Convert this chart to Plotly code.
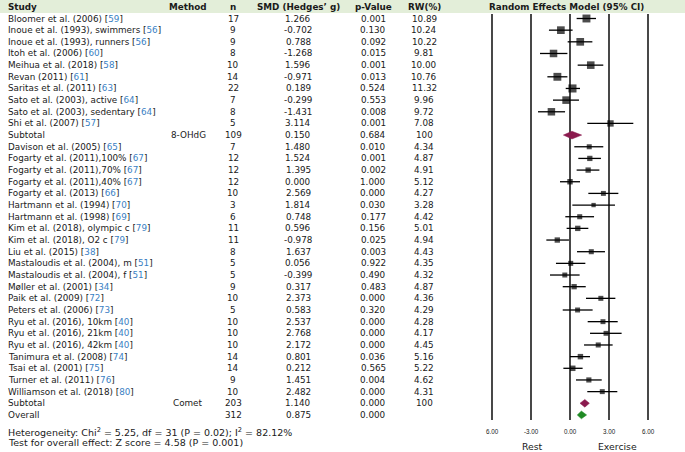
import plotly.graph_objects as go

W, H = 685, 452

# ---------------- data ----------------
g1_names = ["Bloomer et al. (2006)", "Inoue et al. (1993), swimmers", "Inoue et al. (1993), runners",
            "Itoh et al. (2006)", "Meihua et al. (2018)", "Revan (2011)", "Saritas et al. (2011)",
            "Sato et al. (2003), active", "Sato et al. (2003), sedentary", "Shi et al. (2007)"]
g1_refs = ["59", "56", "56", "60", "58", "61", "63", "64", "64", "57"]
g1_n = [17, 9, 9, 8, 10, 14, 22, 7, 8, 5]
g1_smd = [1.266, -0.702, 0.788, -1.268, 1.596, -0.971, 0.189, -0.299, -1.431, 3.114]
g1_p = ["0.001", "0.130", "0.092", "0.015", "0.001", "0.013", "0.524", "0.553", "0.008", "0.001"]
g1_rw = [10.89, 10.24, 10.22, 9.81, 10.00, 10.76, 11.32, 9.96, 9.72, 7.08]
g1_lo = [0.51, -1.62, -0.18, -2.31, 0.59, -1.74, -0.33, -1.31, -2.46, 1.33]
g1_hi = [2.00, 0.20, 1.72, -0.20, 2.56, -0.20, 0.77, 0.69, -0.38, 4.87]

g2_names = ["Davison et al. (2005)", "Fogarty et al. (2011),100%", "Fogarty et al. (2011),70%",
            "Fogarty et al. (2011),40%", "Fogarty et al. (2013)", "Hartmann et al. (1994)",
            "Hartmann et al. (1998)", "Kim et al. (2018), olympic c", "Kim et al. (2018), O2 c",
            "Liu et al. (2015)", "Mastaloudis et al. (2004), m", "Mastaloudis et al. (2004), f",
            "Møller et al. (2001)", "Paik et al. (2009)", "Peters et al. (2006)",
            "Ryu et al. (2016), 10km", "Ryu et al. (2016), 21km", "Ryu et al. (2016), 42km",
            "Tanimura et al. (2008)", "Tsai et al. (2001)", "Turner et al. (2011)",
            "Williamson et al. (2018)"]
g2_refs = ["65", "67", "67", "67", "66", "70", "69", "79", "79", "38", "51", "51", "34", "72", "73",
           "40", "40", "40", "74", "75", "76", "80"]
g2_n = [7, 12, 12, 12, 10, 3, 6, 11, 11, 8, 5, 5, 9, 10, 5, 10, 10, 10, 14, 14, 9, 10]
g2_smd = [1.480, 1.524, 1.395, 0.000, 2.569, 1.814, 0.748, 0.596, -0.978, 1.637, 0.056, -0.399,
          0.317, 2.373, 0.583, 2.537, 2.768, 2.172, 0.801, 0.212, 1.451, 2.482]
g2_p = ["0.010", "0.001", "0.002", "1.000", "0.000", "0.030", "0.177", "0.156", "0.025", "0.003",
        "0.922", "0.490", "0.483", "0.000", "0.320", "0.000", "0.000", "0.000", "0.036", "0.565",
        "0.004", "0.000"]
g2_rw = [4.34, 4.87, 4.91, 5.12, 4.27, 3.28, 4.42, 5.01, 4.94, 4.43, 4.35, 4.32, 4.87, 4.36, 4.29,
         4.28, 4.17, 4.45, 5.16, 5.22, 4.62, 4.31]
g2_lo = [0.33, 0.64, 0.51, -0.77, 1.41, 0.18, -0.36, -0.26, -1.82, 0.54, -1.08, -1.54, -0.56, 1.23,
         -0.56, 1.36, 1.54, 1.08, 0.00, -0.51, 0.46, 1.33]
g2_hi = [2.56, 2.38, 2.26, 0.77, 3.72, 3.46, 1.85, 1.41, -0.08, 2.69, 1.18, 0.74, 1.21, 3.49,
         1.74, 3.67, 3.97, 3.28, 1.54, 0.97, 2.44, 3.64]

sub_method = ["8-OHdG", "Comet"]
sub_n = [109, 203]
sub_smd = [0.150, 1.140]
sub_p = ["0.684", "0.000"]
sub_rw = ["100", "100"]
sub_lo = [-0.51, 0.77]
sub_hi = [0.90, 1.49]

overall_n = 312
overall_smd = 0.875
overall_p = "0.000"
overall_lo = 0.56
overall_hi = 1.28

headers = ["Study", "Method", "n", "SMD (Hedges\u2019 g)", "p-Value", "RW(%)", "Random Effects Model (95% CI)"]
tick_vals = [-6, -3, 0, 3, 6]
tick_text = ["6.00", "-3.00", "0.00", "3.00", "6.00"]
side_labels = ["Rest", "Exercise"]
footer = ["Heterogeneity: Chi<sup>2</sup> = 5.25, df = 31 (P = 0.02); I<sup>2</sup> = 82.12%",
          "Test for overall effect: Z score = 4.58 (P = 0.001)"]

# ---------------- layout constants ----------------
ROW0 = 18.5      # px of first row centre
ROWH = 11.66     # px per row
X0PX = 570.0     # px of SMD = 0
PXU = 13.0       # px per SMD unit
FONT = "DejaVu Sans, Verdana, sans-serif"
FS = 8.8
TXT = "#1a1a1a"
REFC = "#3a7fc4"

col_study = 6
col_method = 188
col_n = 233
col_smd = 298
col_p = 373
col_rw = 424
col_forest = 566

# rows
r1 = list(range(len(g1_names)))
rs1 = len(g1_names)
r2 = [rs1 + 1 + i for i in range(len(g2_names))]
rs2 = r2[-1] + 1
rov = rs2 + 1

fig = go.Figure()
ann = []


def px(x):
    return x / W


def add_text(xp, row, text, anchor="center", bold=False, size=FS, color=TXT):
    ann.append(dict(x=px(xp), xref="paper", y=row, yref="y", text=("<b>%s</b>" % text) if bold else text,
                    showarrow=False, xanchor=anchor, yanchor="middle",
                    font=dict(family=FONT, size=size, color=color)))


# header band
fig.add_shape(type="rect", xref="paper", yref="paper", x0=0, x1=1, y0=1 - 13.0 / H, y1=1,
              fillcolor="#e3eed9", line=dict(width=0), layer="below")

hdr_x = [(col_study, "left"), (col_method, "center"), (col_n, "center"), (col_smd, "center"),
         (col_p, "center"), (col_rw, "center"), (col_forest, "center")]
for (xp, anc), h in zip(hdr_x, headers):
    add_text(xp, -1.0, h, anchor=anc, bold=True)


def add_rows(rows, names, refs, ns, smds, ps, rws):
    for r, nm, rf, n, s, p, w in zip(rows, names, refs, ns, smds, ps, rws):
        add_text(col_study, r, '%s [<span style="color:%s">%s</span>]' % (nm, REFC, rf), anchor="left")
        add_text(col_n, r, str(n))
        add_text(col_smd, r, "%.3f" % s)
        add_text(col_p, r, p)
        add_text(col_rw, r, "%.2f" % w)


add_rows(r1, g1_names, g1_refs, g1_n, g1_smd, g1_p, g1_rw)
add_rows(r2, g2_names, g2_refs, g2_n, g2_smd, g2_p, g2_rw)

for r, m, n, s, p, w in zip([rs1, rs2], sub_method, sub_n, sub_smd, sub_p, sub_rw):
    add_text(col_study, r, "Subtotal", anchor="left")
    add_text(col_method, r, m)
    add_text(col_n, r, str(n))
    add_text(col_smd, r, "%.3f" % s)
    add_text(col_p, r, p)
    add_text(col_rw, r, w)

add_text(col_study, rov, "Overall", anchor="left")
add_text(col_n, rov, str(overall_n))
add_text(col_smd, rov, "%.3f" % overall_smd)
add_text(col_p, rov, overall_p)

# footer
add_text(col_study, (431.8 - ROW0) / ROWH, footer[0], anchor="left", size=9.5)
add_text(col_study, (442.0 - ROW0) / ROWH, footer[1], anchor="left", size=9.5)

# forest axis decorations
y_top = (14 - ROW0) / ROWH
y_bot = (420 - ROW0) / ROWH
for tv in tick_vals:
    fig.add_shape(type="line", xref="x", yref="y", x0=tv, x1=tv, y0=y_top, y1=y_bot,
                  line=dict(color="#1a1a1a", width=1.6), layer="below")
for tv, tt in zip(tick_vals, tick_text):
    ann.append(dict(x=tv, xref="x", y=(431.0 - ROW0) / ROWH, yref="y", text=tt, showarrow=False,
                    xanchor="center", yanchor="middle",
                    font=dict(family="Liberation Sans, Arial, sans-serif", size=6.3, color=TXT)))
ann.append(dict(x=-2.85, xref="x", y=(446.5 - ROW0) / ROWH, yref="y", text=side_labels[0], showarrow=False,
                xanchor="center", yanchor="middle", font=dict(family=FONT, size=9.3, color=TXT)))
ann.append(dict(x=3.62, xref="x", y=(446.5 - ROW0) / ROWH, yref="y", text=side_labels[1], showarrow=False,
                xanchor="center", yanchor="middle", font=dict(family=FONT, size=9.3, color=TXT)))

# study markers
all_rows = r1 + r2
all_smd = g1_smd + g2_smd
all_lo = g1_lo + g2_lo
all_hi = g1_hi + g2_hi
all_rw = g1_rw + g2_rw
fig.add_trace(go.Scatter(
    x=all_smd, y=all_rows, mode="markers",
    marker=dict(symbol="square", color="black", size=[2.4 * w ** 0.5 for w in all_rw], line=dict(width=0)),
    error_x=dict(type="data", symmetric=False,
                 array=[h - s for h, s in zip(all_hi, all_smd)],
                 arrayminus=[s - l for s, l in zip(all_smd, all_lo)],
                 color="black", thickness=1.3, width=0),
    showlegend=False, hoverinfo="skip"))

# diamonds
DH = 0.33
dia = [(rs1, sub_smd[0], sub_lo[0], sub_hi[0], "#8b1a4e"),
       (rs2, sub_smd[1], sub_lo[1], sub_hi[1], "#8b1a4e"),
       (rov, overall_smd, overall_lo, overall_hi, "#1f8a24")]
for r, s, lo, hi, c in dia:
    fig.add_trace(go.Scatter(x=[lo, s, hi, s, lo], y=[r, r - DH, r, r + DH, r], mode="lines",
                             fill="toself", fillcolor=c, line=dict(color=c, width=0.5),
                             showlegend=False, hoverinfo="skip"))

fig.update_layout(
    width=W, height=H, margin=dict(l=0, r=0, t=0, b=0),
    paper_bgcolor="white", plot_bgcolor="rgba(0,0,0,0)",
    xaxis=dict(range=[-X0PX / PXU, (W - X0PX) / PXU], visible=False, fixedrange=True),
    yaxis=dict(range=[(H - ROW0) / ROWH, -ROW0 / ROWH], visible=False, fixedrange=True),
    annotations=ann, showlegend=False,
)

fig.write_html("out.html", config={"displayModeBar": False},
               post_script="document.body.style.margin='0';document.body.style.overflow='hidden';")
